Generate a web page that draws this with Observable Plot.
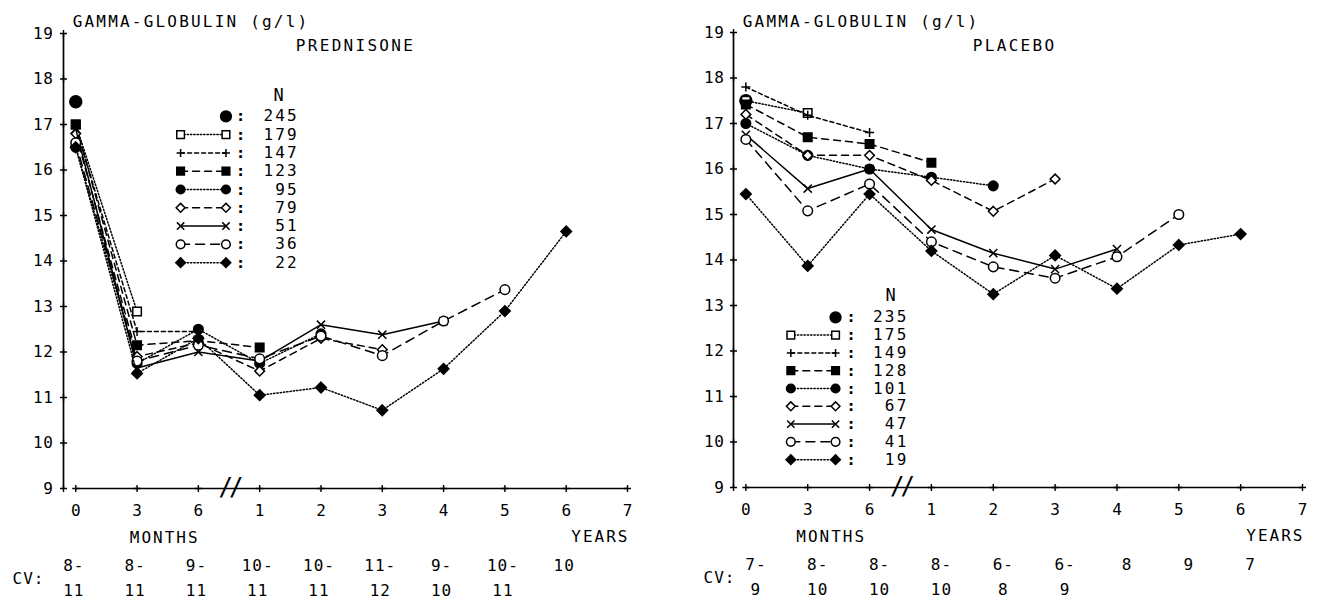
<!DOCTYPE html>
<html><head><meta charset="utf-8">
<script src="https://cdn.jsdelivr.net/npm/d3@7"></script>
<script src="https://cdn.jsdelivr.net/npm/@observablehq/plot@0.6"></script>
<style>
body{margin:0;background:#fff;}
#wrap{position:relative;width:1319px;height:606px;overflow:hidden;background:#fff;}
#wrap svg{position:absolute;top:0;}
</style></head><body><div id="wrap"></div>
<script>
// ---------- data ----------
const timeLabels = ["0","3","6","1","2","3","4","5","6","7"];
const yTicks = [9,10,11,12,13,14,15,16,17,18,19];

const predN = [245,179,147,123,95,79,51,36,22];
const predValues = [
  [17.5],
  [17.0, 12.89],
  [16.95, 12.45, 12.45],
  [17.0, 12.15, 12.25, 12.1],
  [16.5, 11.75, 12.5, 11.75, 12.4],
  [16.8, 11.9, 12.2, 11.58, 12.3, 12.05],
  [16.9, 11.65, 12.0, 11.8, 12.6, 12.38, 12.68],
  [16.6, 11.8, 12.15, 11.85, 12.35, 11.92, 12.68, 13.37],
  [16.5, 11.53, 12.3, 11.05, 11.22, 10.72, 11.63, 12.9, 14.65]
];
const predCVTop = ["8-","8-","9-","10-","10-","11-","9-","10-","10"];
const predCVBottom = ["11","11","11","11","11","12","10","11",""];

const placN = [235,175,149,128,101,67,47,41,19];
const placValues = [
  [17.5],
  [17.5, 17.23],
  [17.8, 17.18, 16.8],
  [17.42, 16.7, 16.55, 16.14],
  [17.0, 16.3, 16.0, 15.82, 15.63],
  [17.2, 16.3, 16.3, 15.75, 15.07, 15.78],
  [16.75, 15.57, 16.0, 14.67, 14.15, 13.8, 14.24],
  [16.65, 15.08, 15.67, 14.4, 13.85, 13.6, 14.07, 15.0],
  [15.45, 13.87, 15.45, 14.2, 13.25, 14.1, 13.37, 14.33, 14.57]
];
const placCVTop = ["7-","8-","8-","8-","6-","6-","8","9","7"];
const placCVBottom = ["9","10","10","10","8","9","","",""];

// ---------- styles ----------
const seriesStyle = [
  {symbol: "circle",   fill: "black", r: 6.0, dash: null},
  {symbol: "square",   fill: "white", r: 4.8, dash: "1.3,2"},
  {symbol: "plus",     fill: "none",  r: 3.0, dash: "4,3"},
  {symbol: "square",   fill: "black", r: 4.8, dash: "7,5"},
  {symbol: "circle",   fill: "black", r: 4.8, dash: "1.3,2"},
  {symbol: "diamond2", fill: "white", r: 4.4, dash: "7,5"},
  {symbol: "times",    fill: "none",  r: 3.8, dash: null},
  {symbol: "circle",   fill: "white", r: 4.8, dash: "9,6"},
  {symbol: "diamond2", fill: "black", r: 4.8, dash: "1.3,2"}
];
const FONT = "'DejaVu Sans Mono', 'Liberation Mono', monospace";
const LW = 1.5;
// letter spacing (px) per text role
const SPACING = {title: 2.2, group: 2.3, axisName: 2, cv: 1, tick: 0.6, legend: 2.2, brk: -4};

function panel(cfg) {
  const L = cfg.layout;
  const marks = [];
  const tagged = []; // [markIndex, role]
  const add = (m, role) => { if (role) tagged.push([marks.length, role]); marks.push(m); };
  // y axis
  add(Plot.ruleX([-0.2], {y1: 9, y2: 19, stroke: "black", strokeWidth: 1.7}));
  add(Plot.dot(yTicks, {x: -0.2, y: d => d, symbol: "plus", r: 2.4, stroke: "black", strokeWidth: 1.4}));
  add(Plot.text(yTicks, {x: -0.2, y: d => d, dx: -L.yLabelGap, textAnchor: "end", fontSize: 16}), "tick");
  // x axis
  const xt = d3.range(timeLabels.length);
  add(Plot.ruleY([9], {x1: 0, x2: 9, stroke: "black", strokeWidth: 1.7}));
  add(Plot.dot(xt, {x: d => d, y: 9, symbol: "plus", r: 2.4, stroke: "black", strokeWidth: 1.4}));
  add(Plot.text(xt, {x: d => d, y: 9, dy: 22, text: i => timeLabels[i], fontSize: 16}));
  add(Plot.text(["//"], {x: 2.5, y: 9, dy: -1, fontSize: 24}), "brk");
  add(Plot.text(["MONTHS"], {x: L.monthsX, y: 9, dy: 49, fontSize: 16}), "axisName");
  add(Plot.text(["YEARS"], {x: 9, y: 9, dx: 2, dy: 48, textAnchor: "end", fontSize: 16}), "axisName");
  // CV rows
  add(Plot.text(["CV:"], {x: -0.2, y: 9, dx: L.cvDx, dy: 90, textAnchor: "end", fontSize: 16}), "cv");
  add(Plot.text(cfg.cvTop, {x: (d, i) => i, y: 9, dx: L.cvShift, dy: 77, text: d => d, fontSize: 16}), "cv");
  add(Plot.text(cfg.cvBottom, {x: (d, i) => i, y: 9, dx: L.cvShift, dy: 102, text: d => d, fontSize: 16}), "cv");
  // titles
  add(Plot.text(["GAMMA-GLOBULIN (g/l)"], {x: -0.05, y: L.titleY, textAnchor: "start", fontSize: 16}), "title");
  add(Plot.text([cfg.group], {x: L.groupX, y: L.groupY, textAnchor: "start", fontSize: 16}), "group");
  // series
  cfg.values.forEach((vals, s) => {
    const data = vals.map((v, i) => ({i, v}));
    const st = seriesStyle[s];
    if (data.length > 1) add(Plot.line(data, {x: "i", y: "v", stroke: "black", strokeWidth: LW, strokeDasharray: st.dash}));
    add(Plot.dot(data, {x: "i", y: "v", symbol: st.symbol, r: st.r, fill: st.fill, stroke: "black", strokeWidth: LW}));
  });
  // legend
  add(Plot.text(["N"], {x: L.legN, y: L.legTop + L.legNOffset, fontSize: 17}));
  cfg.N.forEach((n, k) => {
    const y = L.legTop - k * L.legStep;
    const st = seriesStyle[k];
    if (k > 0) {
      add(Plot.line([[L.legL, y], [L.legR, y]], {stroke: "black", strokeWidth: LW, strokeDasharray: st.dash}));
      add(Plot.dot([[L.legL, y]], {symbol: st.symbol, r: st.r * 0.9, fill: st.fill, stroke: "black", strokeWidth: LW}));
    }
    add(Plot.dot([[L.legR, y]], {symbol: st.symbol, r: st.r * 0.9, fill: st.fill, stroke: "black", strokeWidth: LW}));
    add(Plot.text([":"], {x: L.legColon, y, fontSize: 16, fontWeight: "bold"}));
    add(Plot.text([String(n)], {x: L.legNum, y, textAnchor: "end", fontSize: 16}), "legend");
  });
  const svg = Plot.plot({
    width: cfg.width, height: 606,
    marginLeft: L.ml, marginRight: L.mr, marginTop: L.mt, marginBottom: L.mb,
    x: {domain: [-0.2, 9], axis: null},
    y: {domain: [9, 19], axis: null},
    style: {fontFamily: FONT, color: "black", background: "white", overflow: "visible"},
    marks
  });
  // apply letter spacing to tagged text marks (children of svg follow mark order)
  const groups = Array.from(svg.children).filter(el => el.tagName !== "style");
  tagged.forEach(([mi, role]) => {
    const g = groups[mi];
    if (g) g.style.letterSpacing = SPACING[role] + "px";
  });
  return svg;
}

const left = panel({
  width: 660, N: predN, values: predValues, cvTop: predCVTop, cvBottom: predCVBottom, group: "PREDNISONE",
  layout: {ml: 63, mr: 33, mt: 33, mb: 118, yLabelGap: 10, monthsX: 1.45, cvDx: -19, cvShift: -2,
    titleY: 19.26, groupX: 3.59, groupY: 18.73,
    legL: 1.71, legR: 2.45, legColon: 2.69, legNum: 3.64, legN: 3.31, legTop: 17.18, legStep: 0.402, legNOffset: 0.46}
});
const right = panel({
  width: 659, N: placN, values: placValues, cvTop: placCVTop, cvBottom: placCVBottom, group: "PLACEBO",
  layout: {ml: 73, mr: 17, mt: 32, mb: 119, yLabelGap: 9, monthsX: 1.38, cvDx: 2, cvShift: 10,
    titleY: 19.24, groupX: 3.67, groupY: 18.71,
    legL: 0.727, legR: 1.45, legColon: 1.70, legNum: 2.63, legN: 2.34, legTop: 12.74, legStep: 0.391, legNOffset: 0.48}
});
left.style.left = "0px";
right.style.left = "660px";
document.getElementById("wrap").append(left, right);
</script>
</body></html>
